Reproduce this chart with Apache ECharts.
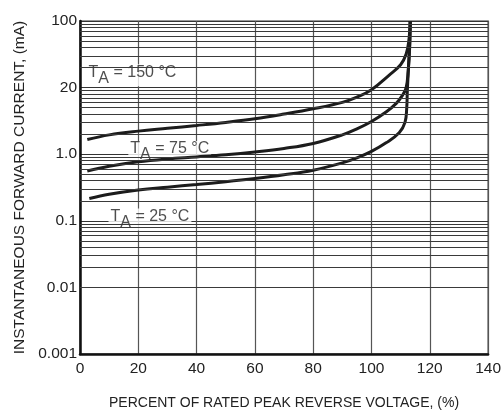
<!DOCTYPE html>
<html>
<head>
<meta charset="utf-8">
<script src="https://cdn.jsdelivr.net/npm/echarts@6/dist/echarts.min.js"></script>
<style>
html,body{margin:0;padding:0;background:#fff;}
#chart{width:504px;height:416px;}
</style>
</head>
<body>
<div id="chart"></div>
<script>
// ---- data ----
var xTicks = [0, 20, 40, 60, 80, 100, 120, 140];
var yTickLabels = ['0.001', '0.01', '0.1', '1.0', '20', '100'];
var yDecades = [0.001, 0.01, 0.1, 1, 10];
var minorMultipliers = [2, 3, 4, 5, 6, 7, 8, 9];

var t150X = [2.5, 10, 20, 30, 40, 50, 60, 70, 80, 90, 95, 100, 106, 110, 111.9, 112.8, 113.3];
var t150Y = [1.66, 1.95, 2.22, 2.45, 2.7, 3.0, 3.4, 4.0, 4.8, 6.0, 7.2, 9.3, 15.3, 22, 32, 50, 100];

var t75X = [2.5, 10, 20, 30, 40, 50, 60, 70, 80, 90, 95, 100, 105, 108.5, 110.5, 111.9, 112.6, 113.1, 113.3];
var t75Y = [0.56, 0.66, 0.77, 0.85, 0.91, 0.98, 1.08, 1.22, 1.45, 1.95, 2.4, 3.1, 4.3, 5.8, 7.5, 10, 18, 40, 100];

var t25X = [3.2, 10, 20, 30, 40, 50, 60, 70, 80, 90, 95, 100, 105, 109.5, 111.5, 112.1, 112.3, 112.7, 113.1, 113.3];
var t25Y = [0.216, 0.25, 0.29, 0.32, 0.35, 0.385, 0.43, 0.49, 0.575, 0.74, 0.88, 1.1, 1.48, 2.1, 3.0, 5, 9, 20, 45, 100];

var curveTemps = ['150', '75', '25'];

// annotation anchors (data coordinates)
var annotX = [18, 30.8, 24];
var annotY = [15.3, 1.08, 0.105];

// ---- build ----
function pairs(xs, ys) { return xs.map(function (x, i) { return [x, ys[i]]; }); }

var minorLines = [];
yDecades.forEach(function (d) {
  minorMultipliers.forEach(function (m) { minorLines.push({ yAxis: +(d * m).toPrecision(3) }); });
});

var tickFont = "'Liberation Sans', Arial, sans-serif";
var textFont = "'Liberation Sans', Arial, sans-serif";
var curveColor = '#1c1c1c';

function curveSeries(xs, ys) {
  return {
    type: 'line', data: pairs(xs, ys), smooth: 0.4,
    showSymbol: false, symbol: 'none', z: 4, silent: true,
    lineStyle: { color: curveColor, width: 3 }
  };
}

var annotData = curveTemps.map(function (t, i) {
  return { value: [annotX[i], annotY[i]], temp: t };
});

var chart = echarts.init(document.getElementById('chart'), null, { renderer: 'canvas' });
chart.setOption({
  backgroundColor: '#fff',
  animation: false,
  grid: { left: 80, right: 11, top: 21, bottom: 62, show: true, borderColor: '#777', borderWidth: 1.5, backgroundColor: 'transparent' },
  xAxis: {
    type: 'value', min: 0, max: 140, interval: 20,
    name: 'PERCENT OF RATED PEAK REVERSE VOLTAGE, (%)',
    nameLocation: 'middle', nameGap: 42,
    nameTextStyle: { fontFamily: textFont, fontSize: 14, color: '#222' },
    axisLine: { show: true, lineStyle: { color: '#111', width: 2.5 } },
    axisTick: { show: false },
    axisLabel: { fontFamily: tickFont, fontSize: 15.5, color: '#222', margin: 7 },
    splitLine: { show: true, lineStyle: { color: '#555', width: 1.2 } }
  },
  yAxis: {
    type: 'log', logBase: 10, min: 0.001, max: 100,
    name: 'INSTANTANEOUS FORWARD CURRENT, (mA)',
    nameLocation: 'middle', nameGap: 41,
    nameTextStyle: { fontFamily: textFont, fontSize: 15.5, color: '#222' },
    axisLine: { show: true, lineStyle: { color: '#111', width: 2.5 } },
    axisTick: { show: false },
    axisLabel: {
      fontFamily: tickFont, fontSize: 15.5, color: '#222', margin: 3,
      formatter: function (v) {
        var idx = Math.round(Math.log10(v) + 3);
        return yTickLabels[idx] !== undefined ? yTickLabels[idx] : '';
      }
    },
    splitLine: { show: true, lineStyle: { color: '#333', width: 1 } }
  },
  series: [
    {
      type: 'line', data: [], z: 1, silent: true,
      markLine: {
        silent: true, symbol: 'none', animation: false,
        label: { show: false },
        lineStyle: { color: '#3a3a3a', width: 1, type: 'solid' },
        data: minorLines
      }
    },
    {
      type: 'scatter', data: annotData, symbolSize: 0, z: 3, silent: true,
      label: {
        show: true, position: 'inside',
        backgroundColor: '#fff', padding: [0, 2, 0, 2],
        formatter: function (p) {
          return '{t|T}{s|A}{t| = ' + p.data.temp + ' °C}';
        },
        rich: {
          t: { fontFamily: textFont, fontSize: 16, color: '#222', lineHeight: 16, verticalAlign: 'top' },
          s: { fontFamily: textFont, fontSize: 16, color: '#222', lineHeight: 22, verticalAlign: 'bottom' }
        }
      }
    },
    curveSeries(t150X, t150Y),
    curveSeries(t75X, t75Y),
    curveSeries(t25X, t25Y)
  ]
});
</script>
</body>
</html>
